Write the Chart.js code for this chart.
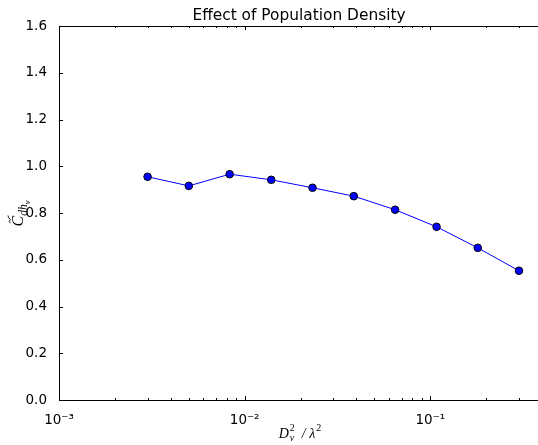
<!DOCTYPE html>
<html>
<head>
<meta charset="utf-8">
<script src="https://cdn.jsdelivr.net/npm/chart.js@4.4.1/dist/chart.umd.min.js"></script>
<style>
  html, body { margin: 0; padding: 0; background: #fff; }
  #wrap { width: 538px; height: 445px; position: relative; }
</style>
</head>
<body>
<div id="wrap"><canvas id="c" width="538" height="445"></canvas></div>
<script>
// ---- data ----
const densityValues = [0.003, 0.005, 0.0083, 0.0139, 0.0232, 0.0387, 0.0646, 0.108, 0.18, 0.3];
const cdhValues = [0.955, 0.916, 0.966, 0.942, 0.908, 0.872, 0.814, 0.741, 0.651, 0.553];
const yTickValues = [0.0, 0.2, 0.4, 0.6, 0.8, 1.0, 1.2, 1.4, 1.6];
const xMajorTicks = [0.001, 0.01, 0.1];
const xMajorLabels = ['10\u207B\u00B3', '10\u207B\u00B2', '10\u207B\u00B9'];
const xMin = 0.001, xMax = 0.38;
const yMin = 0.0, yMax = 1.6;
const titleText = 'Effect of Population Density';

const points = densityValues.map((x, i) => ({ x: x, y: cdhValues[i] }));

const decorPlugin = {
  id: 'decor',
  afterDraw(chart) {
    const ctx = chart.ctx;
    const a = chart.chartArea;
    const xs = chart.scales.x, ys = chart.scales.y;
    ctx.save();
    // spines
    ctx.strokeStyle = '#000';
    ctx.lineWidth = 1;
    ctx.beginPath();
    ctx.moveTo(Math.round(a.left) + 0.5, Math.round(a.bottom) + 0.5);
    ctx.lineTo(Math.round(a.left) + 0.5, Math.round(a.top) + 0.5);
    ctx.lineTo(a.right + 5, Math.round(a.top) + 0.5);
    ctx.moveTo(Math.round(a.left) + 0.5, Math.round(a.bottom) + 0.5);
    ctx.lineTo(a.right + 5, Math.round(a.bottom) + 0.5);
    ctx.stroke();
    // x ticks (major + minor), inward, bottom and top
    for (let d = -3; d <= 0; d++) {
      for (let m = 1; m <= 9; m++) {
        const v = m * Math.pow(10, d);
        if (v < xMin - 1e-12 || v > xMax) continue;
        const px = Math.round(xs.getPixelForValue(v)) + 0.5;
        const len = (m === 1) ? 4 : 2;
        ctx.beginPath();
        ctx.moveTo(px, a.bottom);
        ctx.lineTo(px, a.bottom - len);
        ctx.moveTo(px, a.top);
        ctx.lineTo(px, a.top + len);
        ctx.stroke();
      }
    }
    // y ticks inward on left
    yTickValues.forEach(v => {
      const py = Math.round(ys.getPixelForValue(v)) + 0.5;
      ctx.beginPath();
      ctx.moveTo(a.left, py);
      ctx.lineTo(a.left + 4, py);
      ctx.stroke();
    });
    ctx.fillStyle = '#000';
    // title
    ctx.font = '15.4px "DejaVu Sans"';
    ctx.textAlign = 'center';
    ctx.textBaseline = 'alphabetic';
    ctx.fillText(titleText, 299, 20);

    // x axis label: D_v^2 / λ^2
    const cx = 299, by = 438;
    const big = 'italic 14px "Liberation Serif"';
    const small = 'italic 10px "Liberation Serif"';
    const smallUp = '10px "Liberation Serif"';
    ctx.textAlign = 'left';
    ctx.font = big;
    const wD = ctx.measureText('D').width;
    const wSep = ctx.measureText('  / ').width;
    const wL = ctx.measureText('\u03BB').width;
    ctx.font = small;
    const wv = ctx.measureText('v').width;
    ctx.font = smallUp;
    const w2 = ctx.measureText('2').width;
    const total = wD + Math.max(wv, w2) + wSep + wL + w2;
    let x0 = cx - total / 2;
    ctx.font = big;
    ctx.fillText('D', x0, by);
    x0 += wD;
    ctx.font = small;
    ctx.fillText('v', x0 + 1, by + 3);
    ctx.font = smallUp;
    ctx.fillText('2', x0 + 1, by - 7);
    x0 += Math.max(wv, w2) + 1;
    ctx.font = big;
    ctx.fillText('  / ', x0, by);
    x0 += wSep;
    ctx.fillText('\u03BB', x0, by);
    x0 += wL;
    ctx.font = smallUp;
    ctx.fillText('2', x0 + 1, by - 7);

    // y axis label: C~_{dh_v}, rotated
    ctx.save();
    ctx.translate(23, 213);
    ctx.rotate(-Math.PI / 2);
    const yBig = 'italic 16px "Liberation Serif"';
    const ySmall = 'italic 11.5px "Liberation Serif"';
    const yTiny = 'italic 8.5px "Liberation Serif"';
    ctx.font = yBig;
    const wC = ctx.measureText('C').width;
    ctx.font = ySmall;
    const wdh = ctx.measureText('dh').width;
    ctx.font = yTiny;
    const wvv = ctx.measureText('v').width;
    const tot = wC + wdh + wvv + 1;
    let lx = -tot / 2;
    ctx.font = yBig;
    ctx.fillText('C', lx, 0);
    // tilde accent
    ctx.lineWidth = 1;
    ctx.beginPath();
    const tx = lx + 3.5, ty = -13.5;
    ctx.moveTo(tx, ty + 1);
    ctx.bezierCurveTo(tx + 1.5, ty - 2, tx + 3, ty + 2, tx + 4, ty + 0.5);
    ctx.bezierCurveTo(tx + 5, ty - 1.5, tx + 6.5, ty - 1, tx + 7.5, ty - 1.5);
    ctx.stroke();
    lx += wC;
    ctx.font = ySmall;
    ctx.fillText('dh', lx, 4);
    lx += wdh;
    ctx.font = yTiny;
    ctx.fillText('v', lx, 7);
    ctx.restore();

    ctx.restore();
  }
};

new Chart(document.getElementById('c'), {
  type: 'line',
  data: {
    datasets: [{
      data: points,
      borderColor: '#0000ff',
      borderWidth: 1,
      backgroundColor: '#0000ff',
      pointBackgroundColor: '#0000ff',
      pointBorderColor: '#000000',
      pointBorderWidth: 1,
      pointRadius: 3.8,
      tension: 0,
      fill: false
    }]
  },
  options: {
    responsive: false,
    animation: false,
    devicePixelRatio: 1,
    layout: { autoPadding: false, padding: { top: 26, left: 0, right: 0, bottom: 0 } },
    plugins: { legend: { display: false }, title: { display: false }, tooltip: { enabled: false } },
    scales: {
      x: {
        type: 'logarithmic',
        min: xMin,
        max: xMax,
        grid: { display: false },
        border: { display: false },
        afterBuildTicks(scale) {
          scale.ticks = xMajorTicks.map(v => ({ value: v }));
        },
        afterFit(scale) { scale.height = 45; scale.paddingLeft = 0; scale.paddingRight = 0; },
        ticks: {
          autoSkip: false,
          maxRotation: 0,
          padding: 4,
          color: '#000',
          font: { family: 'DejaVu Sans', size: 13.5 },
          callback(value) {
            const i = xMajorTicks.findIndex(t => Math.abs(t - value) / t < 1e-6);
            return i >= 0 ? xMajorLabels[i] : '';
          }
        }
      },
      y: {
        type: 'linear',
        min: yMin,
        max: yMax,
        grid: { display: false },
        border: { display: false },
        afterBuildTicks(scale) {
          scale.ticks = yTickValues.map(v => ({ value: v }));
        },
        afterFit(scale) { scale.width = 59; scale.paddingTop = 0; scale.paddingBottom = 0; },
        ticks: {
          padding: 4,
          color: '#000',
          font: { family: 'DejaVu Sans', size: 13.5 },
          callback(value) { return Number(value).toFixed(1); }
        }
      }
    }
  },
  plugins: [decorPlugin]
});
</script>
</body>
</html>
